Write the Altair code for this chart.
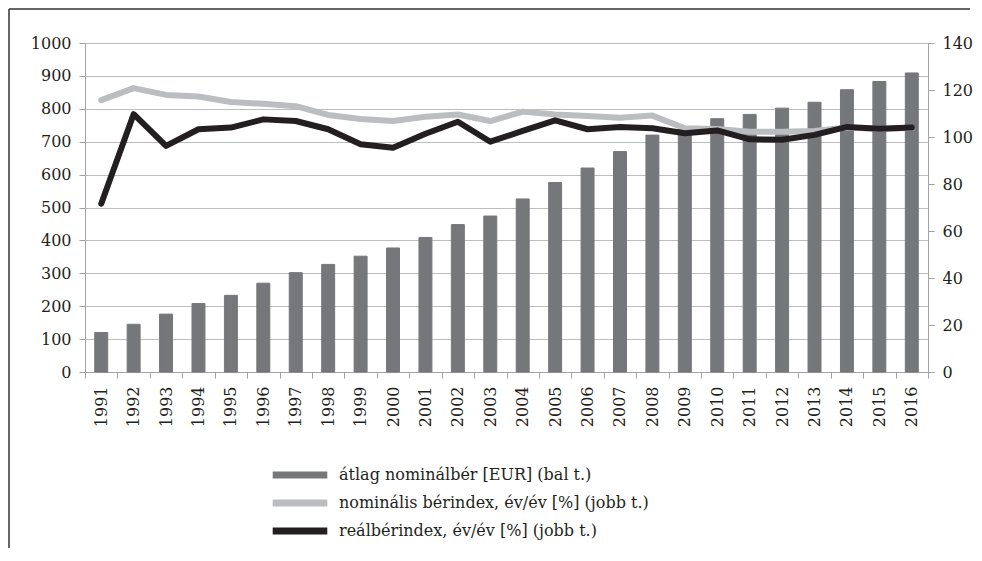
import altair as alt
import pandas as pd

years = [str(y) for y in range(1991, 2017)]
wage = [120, 145, 176, 208, 233, 270, 302, 327, 352, 377, 409, 448, 474,
        526, 576, 620, 670, 720, 737, 770, 783, 802, 820, 858, 883, 909]
nominal = [115.7, 120.8, 117.9, 117.2, 114.9, 114.1, 113.1, 109.4, 107.7, 106.8,
           108.6, 109.6, 106.8, 110.8, 109.6, 108.9, 108.2, 109.1, 103.7, 103.4,
           102.2, 102.2, 102.6, 104.0, 103.4, 103.8]
real = [71.6, 109.7, 96.2, 103.3, 104.0, 107.5, 106.8, 103.3, 96.9, 95.4,
        101.4, 106.5, 98.0, 102.6, 107.1, 103.3, 104.3, 103.7, 101.6, 102.8,
        99.0, 98.8, 100.9, 104.3, 103.5, 104.0]

s_wage = "átlag nominálbér [EUR] (bal t.)"
s_nom = "nominális bérindex, év/év [%] (jobb t.)"
s_real = "reálbérindex, év/év [%] (jobb t.)"
series_names = [s_wage, s_nom, s_real]
series_colors = ["#76777b", "#bcbdc0", "#231f20"]

left_ticks = list(range(0, 1001, 100))
right_ticks = list(range(0, 141, 20))

FONT = "DejaVu Serif"
TXT = "#231f20"
AXC = "#a3a3a3"

bar_df = pd.DataFrame({"year": years, "value": wage, "series": s_wage})
nom_df = pd.DataFrame({"year": years, "value": nominal, "series": s_nom})
real_df = pd.DataFrame({"year": years, "value": real, "series": s_real})
frame_df = pd.DataFrame({"k": [0]})

stroke_scale = alt.Scale(domain=series_names, range=series_colors)
legend = alt.Legend(
    title=None, orient="none", legendX=201, legendY=418, direction="vertical",
    symbolType="M-2.6,0H2.6", symbolSize=441, symbolStrokeWidth=7,
    labelFont=FONT, labelFontSize=16, labelColor=TXT, rowPadding=0,
    labelOffset=25, labelLimit=600,
)

x_enc = alt.X(
    "year:N", sort=years,
    scale=alt.Scale(paddingInner=0, paddingOuter=0),
    axis=alt.Axis(title=None, labelAngle=270, tickBand="extent", tickSize=6,
                  labelPadding=8, domainColor=AXC, tickColor=AXC),
)

bars = alt.Chart(bar_df).mark_bar(fill="#76777b", strokeWidth=1,
                                  width=alt.RelativeBandSize(0.40)).encode(
    x=x_enc,
    y=alt.Y("value:Q", scale=alt.Scale(domain=[0, 1000], nice=False),
            axis=alt.Axis(title=None, orient="left", values=left_ticks, format="d",
                          grid=True, gridColor="#bdbdbd", gridWidth=1.2, tickSize=6,
                          labelPadding=8, domainColor=AXC, tickColor=AXC)),
    stroke=alt.Stroke("series:N", scale=stroke_scale, legend=legend),
)

y_right = alt.Y("value:Q", scale=alt.Scale(domain=[0, 140], nice=False),
                axis=alt.Axis(title=None, orient="right", values=right_ticks, format="d",
                              grid=False, tickSize=6, labelPadding=8,
                              domainColor=AXC, tickColor=AXC))

gray_line = alt.Chart(nom_df).mark_line(strokeWidth=6, strokeJoin="round", strokeCap="round").encode(
    x=x_enc, y=y_right,
    stroke=alt.Stroke("series:N", scale=stroke_scale, legend=legend),
)
black_line = alt.Chart(real_df).mark_line(strokeWidth=6, strokeJoin="round", strokeCap="round").encode(
    x=x_enc, y=y_right,
    stroke=alt.Stroke("series:N", scale=stroke_scale, legend=legend),
)

frame_top = alt.Chart(frame_df).mark_rule(color="#333333", strokeWidth=1.5).encode(
    x=alt.value(-76), x2=alt.value(885), y=alt.value(-34))
frame_left = alt.Chart(frame_df).mark_rule(color="#333333", strokeWidth=1.5).encode(
    x=alt.value(-76), y=alt.value(-34), y2=alt.value(505))

chart = alt.layer(
    frame_top, frame_left, bars, alt.layer(gray_line, black_line)
).resolve_scale(y="independent").properties(
    width=843, height=329,
    padding={"left": 0, "top": 0, "right": 0, "bottom": 0},
).configure_view(strokeWidth=0).configure_axis(
    labelFont=FONT, labelFontSize=16, labelColor=TXT,
)

chart.save("out.html", embed_options={"renderer": "svg", "actions": False})
